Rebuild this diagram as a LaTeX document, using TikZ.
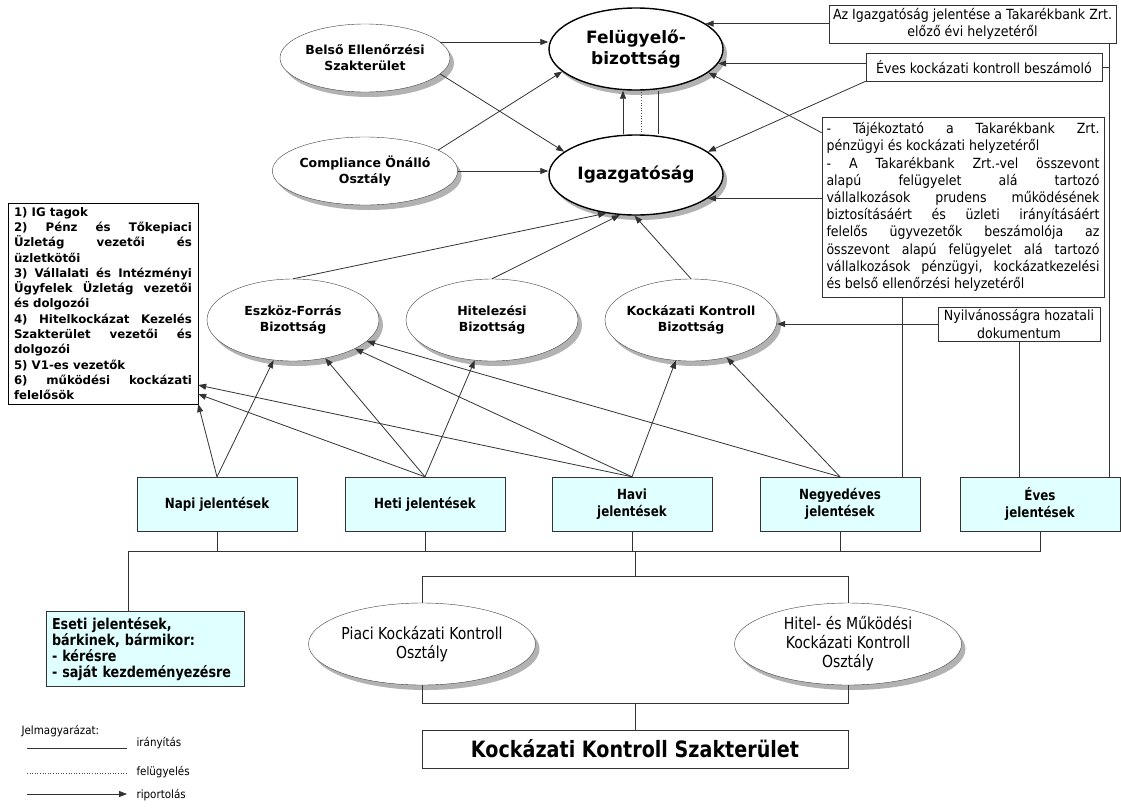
\documentclass[tikz,border=0pt]{standalone}
\usepackage{fontspec}
\setmainfont{DejaVu Sans}
\newfontfamily\tahoma[FakeStretch=0.9]{DejaVu Sans}
\newfontfamily\narrowsf[FakeStretch=0.85]{DejaVu Sans}
\usepackage{tikz}
\usetikzlibrary{arrows.meta,shapes.geometric,shadows}
\definecolor{repcyan}{RGB}{224,255,255}
\newcommand{\loosejust}{\frenchspacing\tolerance 9999\relax\hyphenpenalty 10000\relax}

\begin{document}
\begin{tikzpicture}[x=1pt, y=-1pt,
  ell/.style={ellipse, draw=black!75, fill=white, inner sep=0pt, align=center,
    drop shadow={shadow xshift=4pt, shadow yshift=-5pt, fill=black!30, opacity=1}},
  mainell/.style={ell, draw=black, line width=1.4pt, minimum width=174pt, minimum height=82pt,
    font=\bfseries\fontsize{17}{21}\selectfont},
  sideell/.style={ell, minimum width=170pt, minimum height=68pt, font=\bfseries\fontsize{12.5}{16}\selectfont},
  bizell/.style={ell, minimum width=172pt, minimum height=82pt, font=\bfseries\fontsize{12.5}{16}\selectfont},
  osztell/.style={ell, inner xsep=-6pt, minimum width=227pt, minimum height=82pt,
    font=\narrowsf\fontsize{16.5}{19}\selectfont},
  doc/.style={draw=black!80, fill=white, inner xsep=2pt, inner ysep=3pt, align=center,
    font=\tahoma\fontsize{14}{17.2}\selectfont\loosejust},
  repbox/.style={draw=black!80, fill=repcyan, minimum width=160pt, minimum height=54pt, align=center,
    font=\narrowsf\bfseries\fontsize{14}{17}\selectfont},
  rep/.style={draw=black!80, line width=.8pt, -{Triangle[length=8pt,width=6pt]}},
  org/.style={draw=black!80, line width=.8pt},
  felu/.style={draw=black!70, line width=.6pt, dotted},
  legtxt/.style={anchor=west, font=\tahoma\fontsize{11.5}{13}\selectfont}]
\fill[white] (0,0) rectangle (1121,809);
\useasboundingbox (0,0) rectangle (1121,809);

% vezetes
\node[mainell] (felugy) at (636,49) {Felügyelő-\\bizottság};
\node[mainell, minimum height=80pt] (igaz) at (636,175) {Igazgatóság};
\node[sideell] (belso) at (365,58) {Belső Ellenőrzési\\Szakterület};
\node[sideell] (comp) at (365,171) {Compliance Önálló\\Osztály};

% bizottsagok
\node[bizell] (eszk) at (293,320) {Eszköz-Forrás\\Bizottság};
\node[bizell] (hit) at (492,320) {Hitelezési\\Bizottság};
\node[bizell, inner xsep=-4pt] (kkb) at (691,320) {Kockázati Kontroll\\Bizottság};

% dokumentumok
\node[doc, minimum width=287pt, minimum height=38pt] (igjel) at (972.5,24)
  {Az Igazgatóság jelentése a Takarékbank Zrt.\\előző évi helyzetéről};
\node[doc, minimum width=236pt, minimum height=28pt] (evbesz) at (984,67) {Éves kockázati kontroll beszámoló};
\node[doc, text width=273pt, inner xsep=4.5pt, minimum height=180pt, align=justify] (tajek) at (963,207)
  {- Tájékoztató a Takarékbank Zrt.\linebreak pénzügyi és kockázati helyzetéről\\
   - A Takarékbank Zrt.-vel összevont\linebreak alapú felügyelet alá tartozó\linebreak
   vállalkozások prudens működésének\linebreak biztosításáért és üzleti irányításáért\linebreak
   felelős ügyvezetők beszámolója az\linebreak összevont alapú felügyelet alá tartozó\linebreak
   vállalkozások pénzügyi, kockázatkezelési\linebreak és belső ellenőrzési helyzetéről};
\node[doc, minimum width=162pt, minimum height=34pt] (nyilv) at (1019,324) {Nyilvánosságra hozatali\\dokumentum};

\node[draw=black, fill=white, text width=178pt, inner xsep=6pt, inner ysep=4pt, align=justify,
  font=\bfseries\fontsize{11.8}{15.3}\selectfont\loosejust] (lst) at (103,303.5)
  {1) IG tagok\\
   2) Pénz és Tőkepiaci\linebreak Üzletág vezetői és\linebreak üzletkötői\\
   3) Vállalati és Intézményi\linebreak Ügyfelek Üzletág vezetői\linebreak és dolgozói\\
   4) Hitelkockázat Kezelés\linebreak Szakterület vezetői és\linebreak dolgozói\\
   5) V1-es vezetők\\
   6) működési kockázati\linebreak felelősök};

% jelentesek
\node[repbox] (napi) at (217,504) {Napi jelentések};
\node[repbox] (heti) at (425,504) {Heti jelentések};
\node[repbox] (havi) at (632,504) {Havi\\jelentések};
\node[repbox] (negyed) at (840,504) {Negyedéves\\jelentések};
\node[repbox] (eves) at (1040,504) {Éves\\jelentések};
\node[draw=black!80, fill=repcyan, text width=186pt, inner sep=6pt, align=left,
  font=\narrowsf\bfseries\fontsize{15}{16}\selectfont] (eseti) at (145,649)
  {Eseti jelentések,\\bárkinek, bármikor:\\- kérésre\\- saját kezdeményezésre};

% kockazati kontroll
\node[osztell] (piaci) at (422,644) {Piaci Kockázati Kontroll\\Osztály};
\node[osztell] (hitel) at (848,644) {Hitel- és Működési\\Kockázati Kontroll\\Osztály};
\node[draw=black!80, fill=white, minimum width=426pt, minimum height=38pt,
  font=\narrowsf\bfseries\fontsize{22.5}{26}\selectfont] (kksz) at (635,749) {Kockázati Kontroll Szakterület};

\coordinate (bus) at (0,551);
\coordinate (bus2) at (0,576);
\coordinate (bus3) at (0,703);
\coordinate (vr) at ([xshift=-11pt]eves.north east);

% felso nyilak
\draw[rep] (belso.12) -- (belso.12 -| felugy.west);
\draw[rep] (belso.-12) -- (igaz.162);
\draw[rep] (comp.16) -- (felugy.197);
\draw[rep] (comp.east) -- (comp.east -| igaz.west);
\draw[rep] ([xshift=-13pt]igaz.north) -- ([xshift=-13pt]felugy.south);
\draw[felu] ([xshift=5pt]igaz.north) -- ([xshift=5pt]felugy.south);
\draw[org] ([xshift=22pt]igaz.north) -- ([xshift=22pt]felugy.south);

\draw[rep] (felugy.20 -| igjel.west) -- (felugy.20);
\draw[rep] (felugy.-10 -| evbesz.west) -- (felugy.-10);
\draw[rep] (evbesz.south west) -- (igaz.18);
\draw[rep] ([yshift=-16pt]tajek.north west) -- (felugy.-18);
\draw[rep] (igaz.-18 -| tajek.west) -- (igaz.-18);
\draw[rep] (nyilv.west) -- (nyilv.west -| kkb.east);

\draw[rep] (eszk.north) -- (igaz.232);
\draw[rep] (hit.north) -- (igaz.248);
\draw[rep] (kkb.north) -- (igaz.268);

% riportok felfele
\draw[rep] (napi.north) -- (lst.south east);
\draw[rep] (napi.north) -- (eszk);
\draw[rep] (heti.north) -- ([yshift=10pt]lst.south east);
\draw[rep] (heti.north) -- (eszk);
\draw[rep] (heti.north) -- (hit);
\draw[rep] (havi.north) -- ([yshift=19pt]lst.south east);
\draw[rep] (havi.north) -- (eszk);
\draw[rep] (havi.north) -- (kkb);
\draw[rep] (negyed.north) -- (eszk);
\draw[rep] (negyed.north) -- (kkb);

\draw[org] ([xshift=-18pt]negyed.north east) -- ([xshift=-18pt]negyed.north east |- tajek.south);
\draw[org] (eves.north -| nyilv.south) -- (nyilv.south);
\draw[org] (vr) -- (vr |- igjel.south);
\draw[org] (evbesz.east) -- (evbesz.east -| vr);

% also struktura
\foreach \r in {napi,heti,havi,negyed}
  \draw[org] (\r.south) -- (\r.south |- bus);
\draw[org] ([xshift=-17pt]eseti.north) |- (eves.south |- bus) -- (eves.south);
\draw[org] (kksz.north |- bus) -- (kksz.north |- bus2);
\draw[org] (piaci.north) |- (hitel.north |- bus2) -- (hitel.north);
\draw[org] (piaci.south) |- (hitel.south |- bus3) -- (hitel.south);
\draw[org] (kksz.north |- bus3) -- (kksz.north);

% jelmagyarazat
\node[legtxt] (jm) at (18,731) {Jelmagyarázat:};
\coordinate (l1a) at (27,748); \coordinate (l1b) at (127,748);
\coordinate (l2a) at (27,773); \coordinate (l2b) at (127,773);
\coordinate (l3a) at (27,794); \coordinate (l3b) at (127,794);
\node[legtxt] (lg1) at (133,743) {irányítás};
\node[legtxt] (lg2) at (133,772) {felügyelés};
\node[legtxt] (lg3) at (133,795) {riportolás};
\draw[org] (l1a) -- (l1b);
\draw[felu] (l2a) -- (l2b);
\draw[rep] (l3a) -- (l3b);
\end{tikzpicture}
\end{document}
